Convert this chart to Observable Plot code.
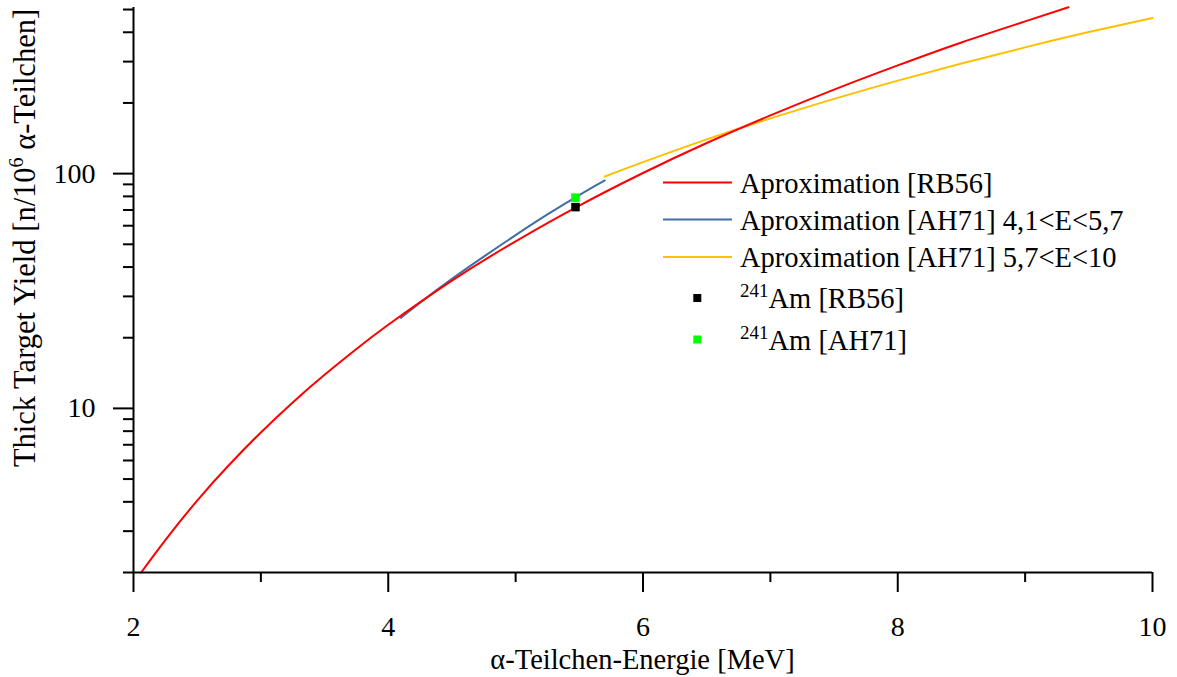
<!DOCTYPE html>
<html><head><meta charset="utf-8">
<script src="https://cdn.jsdelivr.net/npm/d3@7"></script>
<script src="https://cdn.jsdelivr.net/npm/@observablehq/plot@0.6"></script>
<style>
body{margin:0;background:#fff}
#chart{position:relative;width:1177px;height:677px}
</style>
</head><body><div id="chart"></div>
<script>
// ---- data ----
const energyRB56 = [2.06, 2.25, 2.5, 2.75, 3.0, 3.25, 3.5, 3.75, 4.0, 4.5, 5.0, 5.5, 6.0, 6.5, 7.0, 7.5, 8.0, 8.5, 9.0, 9.34];
const yieldRB56  = [2.0, 2.75, 4.05, 5.74, 7.9, 10.6, 13.9, 17.9, 22.7, 35.0, 51.5, 73.1, 100.6, 135, 177, 228, 289, 362, 445, 511];
const energyAH71low = [4.1, 4.25, 4.5, 4.75, 5.0, 5.25, 5.5, 5.7];
const yieldAH71low  = [24.3, 28.2, 35.6, 44.3, 54.7, 67.0, 81.0, 93.5];
const energyAH71high = [5.7, 6.0, 6.5, 7.0, 7.5, 8.0, 8.5, 9.0, 9.5, 10.0];
const yieldAH71high  = [97.2, 111.9, 139.9, 171.9, 208.1, 249, 294.4, 345, 400.7, 460];
const pointEnergy = [5.47, 5.47];
const pointYield  = [72, 79];
const pointNames  = ["[RB56]", "[AH71]"];
const seriesNames = ["Aproximation [RB56]", "Aproximation [AH71] 4,1<E<5,7", "Aproximation [AH71] 5,7<E<10"];
const xTicks = [2, 4, 6, 8, 10];
const xMinorTicks = [3, 5, 7, 9];
const yTicks = [10, 100];
const yMinorTicks = [2, 3, 4, 5, 6, 7, 8, 9, 20, 30, 40, 50, 60, 70, 80, 90, 200, 300, 400, 500];

// ---- styles ----
const lineColors = ["#ff0000", "#3e6fa6", "#ffc000"];
const pointColors = ["#000000", "#00ff00"];
const FONT = "'Liberation Serif', 'Times New Roman', serif";

const zip = (xs, ys) => xs.map((x, i) => ({x, y: ys[i]}));
const rb56 = zip(energyRB56, yieldRB56);
const ah71a = zip(energyAH71low, yieldAH71low);
const ah71b = zip(energyAH71high, yieldAH71high);
const pts = pointEnergy.map((x, i) => ({x, y: pointYield[i], c: pointColors[i]}));

const plot = Plot.plot({
  width: 1177,
  height: 677,
  marginLeft: 133,
  marginRight: 25,
  marginTop: 7,
  marginBottom: 105,
  style: {fontFamily: FONT, fontSize: "28px", color: "#000", background: "#fff"},
  x: {domain: [2, 10], axis: null},
  y: {type: "log", domain: [2, 510], axis: null},
  marks: [
    Plot.line(ah71b, {x: "x", y: "y", stroke: lineColors[2], strokeWidth: 2, curve: "natural"}),
    Plot.line(ah71a, {x: "x", y: "y", stroke: lineColors[1], strokeWidth: 2, curve: "natural"}),
    Plot.line(rb56, {x: "x", y: "y", stroke: lineColors[0], strokeWidth: 2, curve: "natural"}),
    Plot.dot(pts, {x: "x", y: "y", symbol: "square", r: 4.8, fill: d => d.c, stroke: null}),
    Plot.ruleY([2], {stroke: "#000", strokeWidth: 2}),
    Plot.ruleX([2], {stroke: "#000", strokeWidth: 2}),
    Plot.axisX({ticks: xTicks, tickSize: 20, tickPadding: 24, tickFormat: d => String(d), strokeWidth: 2, label: null, fontSize: 28}),
    Plot.axisX({ticks: xMinorTicks, tickSize: 10, tickFormat: () => "", strokeWidth: 2, label: null}),
    Plot.axisY({ticks: yTicks, tickSize: 20, tickPadding: 18, tickFormat: d => String(d), strokeWidth: 2, label: null, fontSize: 28}),
    Plot.axisY({ticks: yMinorTicks, tickSize: 10, tickFormat: () => "", strokeWidth: 2, label: null})
  ]
});
document.getElementById("chart").appendChild(plot);

const svg = d3.select(plot);

// x axis title
svg.append("text")
  .attr("x", 642.5).attr("y", 669)
  .attr("text-anchor", "middle")
  .attr("font-family", FONT).attr("font-size", 28.5).attr("fill", "#000")
  .text("\u03b1-Teilchen-Energie [MeV]");

// y axis title
const yt = svg.append("text")
  .attr("transform", "translate(35,238) rotate(-90)")
  .attr("text-anchor", "middle")
  .attr("font-family", FONT).attr("font-size", 30.5).attr("fill", "#000");
yt.append("tspan").text("Thick Target Yield [n/10");
yt.append("tspan").attr("dy", -12).attr("font-size", 20).text("6");
yt.append("tspan").attr("dy", 12).text(" \u03b1-Teilchen]");

// legend
const lg = svg.append("g").attr("font-family", FONT).attr("font-size", 28.5).attr("fill", "#000")
  .attr("text-anchor", "start");
const lineRows = [182.5, 219.5, 257];
seriesNames.forEach((name, i) => {
  lg.append("line").attr("x1", 663).attr("x2", 732).attr("y1", lineRows[i]).attr("y2", lineRows[i])
    .attr("stroke", lineColors[i]).attr("stroke-width", 2);
  lg.append("text").attr("x", 740).attr("y", lineRows[i]).attr("dy", "0.36em")
    .attr("text-anchor", "start").text(name);
});
const pointRows = [298, 339.5];
pointNames.forEach((name, i) => {
  lg.append("rect").attr("x", 693.3).attr("y", pointRows[i] - 4).attr("width", 8).attr("height", 8)
    .attr("fill", pointColors[i]);
  const t = lg.append("text").attr("x", 740).attr("y", pointRows[i] + 10).attr("text-anchor", "start");
  t.append("tspan").attr("font-size", 19).attr("dy", -11).text("241");
  t.append("tspan").attr("dy", 11).text("Am " + name);
});
</script>
</body></html>
